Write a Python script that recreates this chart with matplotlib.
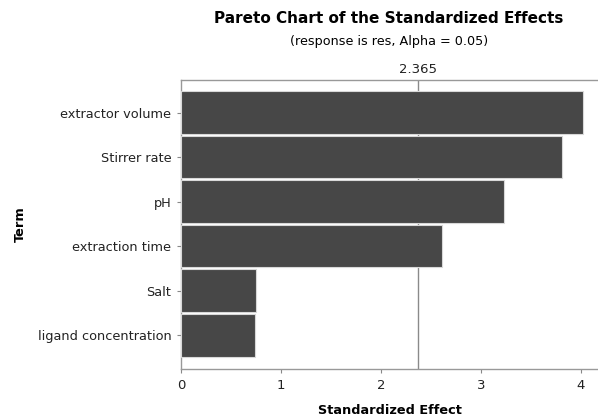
import matplotlib
matplotlib.use('Agg')
import matplotlib.pyplot as plt
import numpy as np

terms = ['extractor volume', 'Stirrer rate', 'pH', 'extraction time',
         'Salt', 'ligand concentration']
effects = [4.02, 3.81, 3.23, 2.61, 0.75, 0.74]
critical = 2.365
xticks = [0, 1, 2, 3, 4]

fig = plt.figure(figsize=(5.98, 4.2), dpi=100)
ax = fig.add_axes([0.3027, 0.1214, 0.6973, 0.6881])

pos = np.arange(len(terms))
ax.barh(pos, effects, height=0.96, color='#474747', edgecolor='#d8d8d8',
        linewidth=0.8, zorder=3)
# reference line sits behind the bars
ax.axvline(critical, color='#8a8a8a', linewidth=1.0, zorder=2)

ax.set_xlim(0, 4.17)
ax.set_ylim(5.76, -0.73)
ax.set_yticks(pos)
ax.set_yticklabels(terms, fontsize=9.3, color='#222222')
ax.set_xticks(xticks)
ax.set_xticklabels([str(t) for t in xticks], fontsize=9.5, color='#222222')
ax.tick_params(axis='both', color='#888888', length=3, width=0.8, pad=4)

for s in ['left', 'bottom', 'top']:
    ax.spines[s].set_color('#999999')
    ax.spines[s].set_linewidth(1.0)
ax.spines['right'].set_visible(False)

top = ax.twiny()
top.set_xlim(ax.get_xlim())
top.set_xticks([critical])
top.set_xticklabels(['%.3f' % critical], fontsize=9.5, color='#222222')
top.tick_params(axis='x', length=0, pad=3)
for s in top.spines.values():
    s.set_visible(False)

ax.set_xlabel('Standardized Effect', fontsize=9.3, fontweight='bold', labelpad=9)
ax.set_ylabel('Term', fontsize=9.3, fontweight='bold', labelpad=8)

fig.text(0.65, 0.955, 'Pareto Chart of the Standardized Effects',
         ha='center', va='center', fontsize=11, fontweight='bold')
fig.text(0.65, 0.9, '(response is res, Alpha = 0.05)',
         ha='center', va='center', fontsize=9.2)

fig.savefig('out.png', dpi=100)
